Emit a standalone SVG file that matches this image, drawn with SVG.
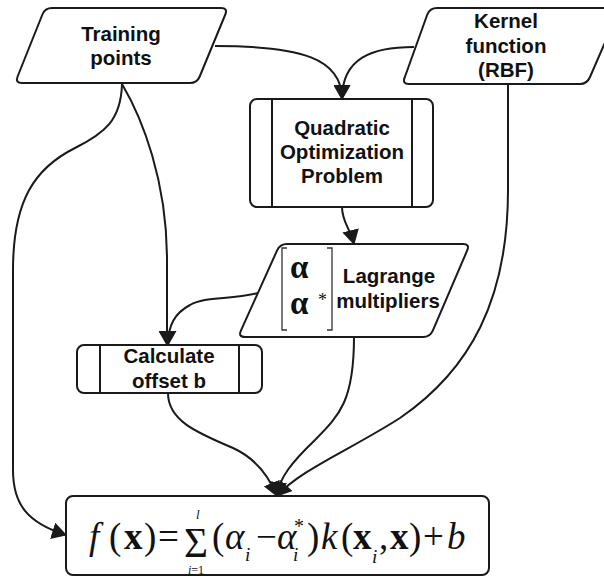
<svg xmlns="http://www.w3.org/2000/svg" width="604" height="576" viewBox="0 0 604 576">
  <style>
    .shape { fill: #ffffff; stroke: #1a1a1a; stroke-width: 2; stroke-linejoin: round; }
    .divider { stroke: #1a1a1a; stroke-width: 2; }
    .label { font-family: "Liberation Sans", Arial, sans-serif; font-weight: bold; font-size: 20.5px; fill: #111111; text-anchor: middle; }
    .edge { fill: none; stroke: #1a1a1a; stroke-width: 2; }
    .bracket { fill: none; stroke: #333333; stroke-width: 1.3; }
    .math { font-family: "Liberation Serif", "Times New Roman", serif; fill: #111111; }
    .it { font-style: italic; }
    .bf { font-weight: bold; }
  </style>
  <defs>
    <marker id="arrow" markerUnits="userSpaceOnUse" markerWidth="17" markerHeight="17" refX="14" refY="8.5" orient="auto">
      <path d="M0,0 L15,8.5 L0,17 Z" fill="#1a1a1a"/>
    </marker>
  </defs>

  <!-- connectors -->
  <g id="connectors">
    <path class="edge" d="M215,46 C300,46 342,58 342,99" marker-end="url(#arrow)"/>
    <path class="edge" d="M414,47 C372,47 342,58 342,99" marker-end="url(#arrow)"/>
    <path class="edge" d="M122,84 C142,118 167,180 167,260 L167,345" marker-end="url(#arrow)"/>
    <path class="edge" d="M122,84 C121,120 105,133 75,148 C35,168 13,200 13,270 L13,470 C13,505 28,523 66,535" marker-end="url(#arrow)"/>
    <path class="edge" d="M258,293 C230,300 205,296 190,305 C175,313 168,325 168,345" marker-end="url(#arrow)"/>
    <path class="edge" d="M342,207 C342,222 350,228 354,244" marker-end="url(#arrow)"/>
    <path class="edge" d="M168,393 C168,420 195,432 233,448 C255,458 268,474 277,496" marker-end="url(#arrow)"/>
    <path class="edge" d="M354,337 C354,400 340,415 315,440 C292,462 279,478 277,496" marker-end="url(#arrow)"/>
    <path class="edge" d="M508,84 L508,190 C508,300 470,370 400,418 C350,450 300,470 277,496" marker-end="url(#arrow)"/>
  </g>

  <!-- Training points (input) -->
  <g id="training-points">
    <path class="shape" d="M52,8 L221,8 Q228,8 225.3,14.5 L199.7,76.5 Q197,83 190,83 L22,83 Q15,83 17.6,76.5 L42.4,14.5 Q45,8 52,8 Z"/>
    <text class="label" x="121" y="40.5">Training</text>
    <text class="label" x="121" y="64.5">points</text>
  </g>

  <!-- Kernel function (input) -->
  <g id="kernel-function">
    <path class="shape" d="M437,8 L620,8 L590,77 Q587,84 580,84 L409,84 Q402,84 404.7,77.5 L427.3,14.5 Q430,8 437,8 Z"/>
    <text class="label" x="506" y="28">Kernel</text>
    <text class="label" x="506" y="52.5">function</text>
    <text class="label" x="506" y="77">(RBF)</text>
  </g>

  <!-- Quadratic Optimization Problem (process) -->
  <g id="quadratic-optimization">
    <rect class="shape" x="250" y="99" width="183" height="108" rx="7"/>
    <line class="divider" x1="272" y1="99" x2="272" y2="207"/>
    <line class="divider" x1="412" y1="99" x2="412" y2="207"/>
    <text class="label" x="342" y="135">Quadratic</text>
    <text class="label" x="342" y="159">Optimization</text>
    <text class="label" x="342" y="183">Problem</text>
  </g>

  <!-- Lagrange multipliers (data) -->
  <g id="lagrange-multipliers">
    <path class="shape" d="M287,244 L463,244 Q470,244 467.2,250.4 L432.8,330.6 Q430,337 423,337 L245,337 Q238,337 240.9,330.6 L277.1,250.4 Q280,244 287,244 Z"/>
    <path class="bracket" d="M287,248 L282,248 L282,330 L287,330"/>
    <path class="bracket" d="M327,248 L332,248 L332,330 L327,330"/>
    <text class="math bf" x="290" y="278" font-size="33">α</text>
    <text class="math bf" x="290" y="314" font-size="33">α</text>
    <text class="math" x="318" y="306" font-size="18">*</text>
    <text class="label" x="389" y="283">Lagrange</text>
    <text class="label" x="388" y="308">multipliers</text>
  </g>

  <!-- Calculate offset b (process) -->
  <g id="calculate-offset">
    <rect class="shape" x="77" y="345" width="185" height="48" rx="7"/>
    <line class="divider" x1="100" y1="345" x2="100" y2="393"/>
    <line class="divider" x1="239" y1="345" x2="239" y2="393"/>
    <text class="label" x="169" y="363">Calculate</text>
    <text class="label" x="169" y="388">offset b</text>
  </g>

  <!-- Regression function -->
  <g id="regression-function">
    <rect class="shape" x="66" y="496" width="423" height="79" rx="7"/>
    <text class="math" font-size="37">
      <tspan class="it" x="89" y="549">f</tspan>
      <tspan x="109" y="549">(</tspan>
      <tspan class="bf" x="124" y="549">x</tspan>
      <tspan x="144" y="549">)</tspan>
      <tspan x="158" y="549">=</tspan>
      <tspan x="212" y="549">(</tspan>
      <tspan class="it" x="225" y="549">α</tspan>
      <tspan x="256" y="549">−</tspan>
      <tspan class="it" x="277" y="549">α</tspan>
      <tspan x="307" y="549">)</tspan>
      <tspan class="it" x="321" y="549">k</tspan>
      <tspan x="341" y="549">(</tspan>
      <tspan class="bf" x="353" y="549">x</tspan>
      <tspan x="379" y="549">,</tspan>
      <tspan class="bf" x="390" y="549">x</tspan>
      <tspan x="409" y="549">)</tspan>
      <tspan x="423" y="549">+</tspan>
      <tspan class="it" x="447" y="549">b</tspan>
    </text>
    <text class="math" x="184" y="557" font-size="42" textLength="24" lengthAdjust="spacingAndGlyphs">Σ</text>
    <text class="math it" x="196" y="519" font-size="13">l</text>
    <text class="math" x="188" y="574" font-size="12"><tspan class="it">i</tspan>=1</text>
    <text class="math it" x="245" y="561" font-size="19">i</text>
    <text class="math it" x="293" y="561" font-size="19">i</text>
    <text class="math" x="294" y="533" font-size="20">*</text>
    <text class="math it" x="372" y="563" font-size="19">i</text>
  </g>
</svg>
